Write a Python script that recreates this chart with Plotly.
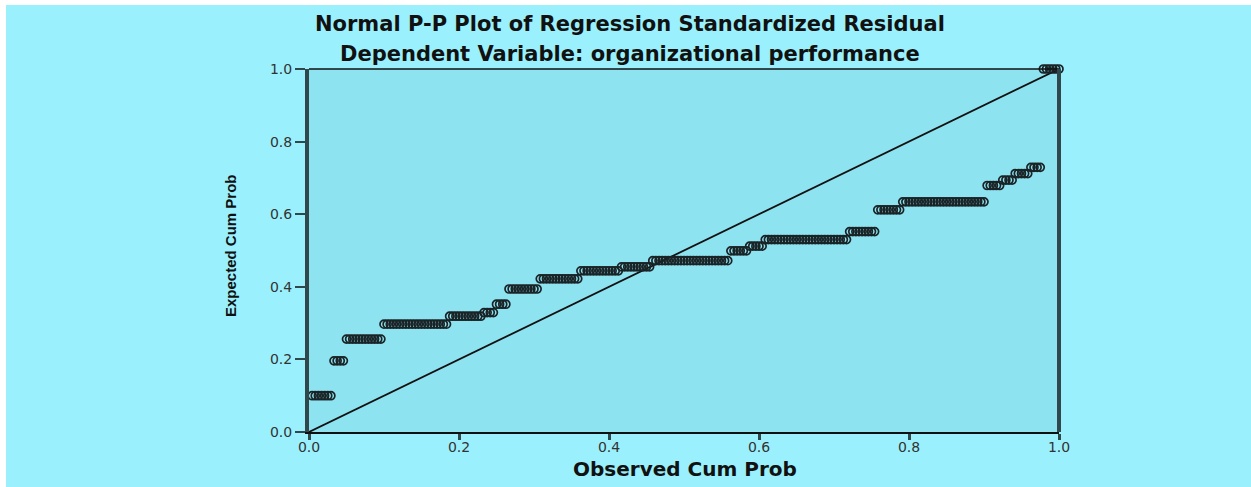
import numpy as np
import plotly.graph_objects as go

# Expected cumulative probability of each tied group of residuals (bottom to top)
expected_levels = [0.100, 0.196, 0.256, 0.297, 0.319, 0.329, 0.352, 0.394, 0.422, 0.444,
                   0.455, 0.472, 0.499, 0.512, 0.530, 0.552, 0.612, 0.634, 0.679, 0.694,
                   0.712, 0.729, 1.000]
# Number of cases in each tied group
group_counts = [7, 4, 12, 21, 11, 4, 4, 10, 13, 13,
                10, 25, 6, 5, 27, 9, 8, 27, 5, 4,
                5, 4, 6]
x_ticks = [0.0, 0.2, 0.4, 0.6, 0.8, 1.0]
y_ticks = [0.0, 0.2, 0.4, 0.6, 0.8, 1.0]
ref_line = [0.0, 1.0]

title1 = "Normal P-P Plot of Regression Standardized Residual"
title2 = "Dependent Variable: organizational performance"
x_title = "Observed Cum Prob"
y_title = "Expected Cum Prob"

n_total = sum(group_counts)
expected = np.repeat(expected_levels, group_counts)
observed = np.arange(1, n_total + 1) / n_total  # rank-based observed cumulative probability

W, H = 1251, 487
L, R, T, B = 309, 192, 69, 55
pw, ph = W - L - R, H - T - B

def px_x(p):
    return (p - L) / pw

def px_y(p):
    return (H - B - p) / ph

fig = go.Figure()
fig.add_trace(go.Scatter(x=ref_line, y=ref_line, mode="lines",
                         line=dict(color="#111111", width=1.8),
                         hoverinfo="skip", showlegend=False))
fig.add_trace(go.Scatter(x=observed, y=expected, mode="markers",
                         marker=dict(symbol="circle-open", size=8,
                                     line=dict(color="#1a2326", width=1.7),
                                     color="#1a2326"),
                         cliponaxis=False, showlegend=False))

tick_font = dict(family="DejaVu Sans", size=14, color="#333333")
fig.update_xaxes(range=[0, 1], tickvals=x_ticks, ticktext=[f"{v:.1f}" for v in x_ticks],
                 showgrid=False, zeroline=False, showline=True, linecolor="#111111",
                 linewidth=1.5, ticks="outside", ticklen=6, tickwidth=3,
                 tickcolor="#30474c", tickfont=tick_font, ticklabelstandoff=-5)
fig.update_yaxes(range=[0, 1], tickvals=y_ticks, ticktext=[f"{v:.1f}" for v in y_ticks],
                 showgrid=False, zeroline=False, showline=True, linecolor="#30474c",
                 linewidth=4, ticks="outside", ticklen=10, tickwidth=2,
                 tickcolor="#30474c", tickfont=tick_font)

# top and right frame lines
fig.add_shape(type="line", xref="paper", yref="paper", x0=0, x1=1, y0=1, y1=1,
              line=dict(color="#111111", width=1.5))
fig.add_shape(type="line", xref="paper", yref="paper", x0=1, x1=1, y0=0, y1=1,
              line=dict(color="#30474c", width=4))
# white border on top and left
fig.add_shape(type="rect", xref="paper", yref="paper", x0=px_x(0), x1=px_x(W),
              y0=px_y(5), y1=px_y(-5), fillcolor="white", line=dict(width=0), layer="above")
fig.add_shape(type="rect", xref="paper", yref="paper", x0=px_x(-5), x1=px_x(6),
              y0=px_y(H + 5), y1=px_y(-5), fillcolor="white", line=dict(width=0), layer="above")

title_font = dict(family="DejaVu Sans", size=21, color="#111111", weight="bold")
fig.add_annotation(text=title1, x=px_x(630), y=px_y(24), xref="paper", yref="paper",
                   showarrow=False, xanchor="center", yanchor="middle", font=title_font)
fig.add_annotation(text=title2, x=px_x(630), y=px_y(54), xref="paper", yref="paper",
                   showarrow=False, xanchor="center", yanchor="middle", font=title_font)
fig.add_annotation(text=x_title, x=px_x(685), y=px_y(469), xref="paper", yref="paper",
                   showarrow=False, xanchor="center", yanchor="middle",
                   font=dict(family="DejaVu Sans", size=20, color="#111111", weight="bold"))
fig.add_annotation(text=y_title, x=px_x(230), y=px_y(246), xref="paper", yref="paper",
                   showarrow=False, xanchor="center", yanchor="middle", textangle=-90,
                   font=dict(family="Liberation Sans", size=15, color="#111111", weight="bold"))

fig.update_layout(width=W, height=H, margin=dict(l=L, r=R, t=T, b=B),
                  paper_bgcolor="#9af1fd", plot_bgcolor="#8ee3f1")

fig.write_html("out.html", config={"displayModeBar": False},
               post_script="document.body.style.margin='0';document.body.style.overflow='hidden';")
